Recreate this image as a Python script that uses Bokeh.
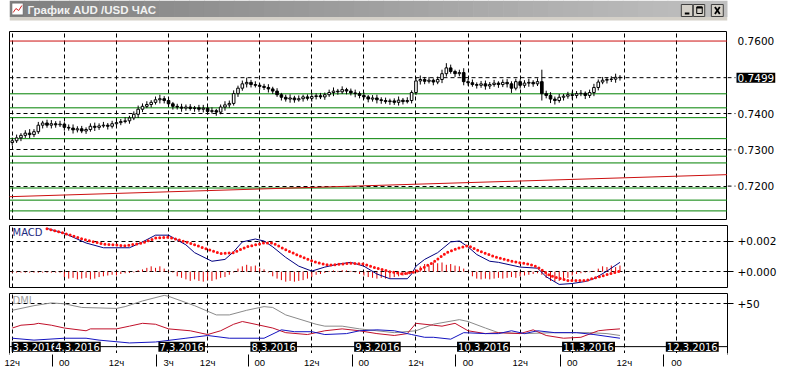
from bokeh.plotting import figure
from bokeh.models import (Range1d, FixedTicker, PrintfTickFormatter, Span, Slope,
                          Label, ColumnDataSource)
from bokeh.layouts import column, row
from bokeh.embed import file_html
from bokeh.resources import INLINE
from bokeh.core.properties import value

# ---------------------------------------------------------------- data
title_text = "График AUD /USD ЧАС"

# hourly candles, in pips (value / 10000 = price), bar 0 = 3.3 12ч
open_pips = [
    7320, 7325, 7333, 7340, 7346, 7342, 7350, 7368, 7374, 7368,
    7372, 7369, 7371, 7362, 7360, 7355, 7358, 7352, 7356, 7365,
    7362, 7366, 7368, 7365, 7372, 7375, 7378, 7380, 7388, 7398,
    7412, 7420, 7425, 7431, 7438, 7441, 7436, 7427, 7420, 7418,
    7415, 7418, 7414, 7416, 7412, 7415, 7406, 7408, 7404, 7418,
    7424, 7428, 7455, 7470, 7482, 7486, 7480, 7478, 7475, 7472,
    7468, 7462, 7452, 7445, 7440, 7443, 7438, 7441, 7446, 7442,
    7447, 7449, 7446, 7452, 7458, 7462, 7460, 7466, 7462, 7457,
    7455, 7450, 7446, 7440, 7443, 7438, 7436, 7433, 7435, 7431,
    7437, 7433, 7436, 7458, 7490, 7494, 7489, 7492, 7487, 7494,
    7510, 7526, 7516, 7510, 7513, 7488, 7485, 7480, 7478, 7482,
    7476, 7480, 7484, 7480, 7486, 7482, 7470, 7488, 7478, 7484,
    7486, 7482, 7488, 7455, 7450, 7440, 7436, 7445, 7448, 7452,
    7450, 7455, 7456, 7450, 7458, 7472, 7487, 7492, 7494, 7495, 7500]
high_pips = [
    7334, 7342, 7346, 7354, 7357, 7357, 7377, 7380, 7383, 7382,
    7379, 7380, 7376, 7370, 7370, 7365, 7366, 7362, 7373, 7375,
    7373, 7377, 7374, 7380, 7385, 7385, 7390, 7394, 7406, 7422,
    7428, 7434, 7437, 7447, 7452, 7448, 7444, 7432, 7427, 7427,
    7425, 7426, 7421, 7424, 7424, 7420, 7417, 7413, 7425, 7434,
    7436, 7464, 7477, 7491, 7499, 7493, 7489, 7483, 7482, 7481,
    7474, 7470, 7457, 7452, 7453, 7449, 7450, 7452, 7453, 7457,
    7456, 7457, 7458, 7466, 7472, 7468, 7475, 7471, 7469, 7466,
    7461, 7458, 7451, 7451, 7452, 7445, 7444, 7441, 7442, 7447,
    7443, 7445, 7464, 7499, 7505, 7501, 7501, 7497, 7502, 7521,
    7539, 7535, 7521, 7521, 7525, 7495, 7494, 7486, 7490, 7491,
    7487, 7493, 7489, 7494, 7495, 7489, 7496, 7494, 7492, 7496,
    7492, 7497, 7521, 7463, 7459, 7447, 7454, 7454, 7460, 7461,
    7462, 7465, 7461, 7466, 7482, 7494, 7501, 7500, 7503, 7510, 7506]
low_pips = [
    7312, 7319, 7324, 7333, 7332, 7335, 7344, 7359, 7361, 7359,
    7361, 7363, 7353, 7353, 7345, 7348, 7346, 7344, 7350, 7352,
    7355, 7361, 7356, 7359, 7363, 7368, 7373, 7372, 7382, 7388,
    7404, 7415, 7417, 7425, 7428, 7428, 7421, 7411, 7411, 7405,
    7408, 7408, 7405, 7405, 7403, 7397, 7400, 7394, 7398, 7408,
    7416, 7422, 7446, 7463, 7472, 7472, 7472, 7466, 7465, 7458,
    7454, 7446, 7436, 7433, 7430, 7430, 7433, 7433, 7436, 7433,
    7439, 7440, 7438, 7446, 7448, 7452, 7454, 7453, 7450, 7445,
    7442, 7440, 7431, 7433, 7428, 7427, 7427, 7424, 7424, 7422,
    7425, 7428, 7428, 7451, 7480, 7481, 7483, 7478, 7481, 7484,
    7502, 7510, 7501, 7503, 7478, 7477, 7474, 7469, 7471, 7466,
    7468, 7474, 7471, 7473, 7472, 7457, 7464, 7469, 7471, 7474,
    7474, 7476, 7436, 7442, 7429, 7425, 7430, 7436, 7441, 7439,
    7442, 7448, 7440, 7443, 7448, 7464, 7481, 7483, 7487, 7485, 7491]
close_pips = [
    7325, 7333, 7340, 7346, 7342, 7350, 7368, 7374, 7368, 7372,
    7369, 7371, 7362, 7360, 7355, 7358, 7352, 7356, 7365, 7362,
    7366, 7368, 7365, 7372, 7375, 7378, 7380, 7388, 7398, 7412,
    7420, 7425, 7431, 7438, 7441, 7436, 7427, 7420, 7418, 7415,
    7418, 7414, 7416, 7412, 7415, 7406, 7408, 7404, 7418, 7424,
    7428, 7455, 7470, 7482, 7486, 7480, 7478, 7475, 7472, 7468,
    7462, 7452, 7445, 7440, 7443, 7438, 7441, 7446, 7442, 7447,
    7449, 7446, 7452, 7458, 7462, 7460, 7466, 7462, 7457, 7455,
    7450, 7446, 7440, 7443, 7438, 7436, 7433, 7435, 7431, 7437,
    7433, 7436, 7458, 7490, 7494, 7489, 7492, 7487, 7494, 7510,
    7526, 7516, 7510, 7513, 7488, 7485, 7480, 7478, 7482, 7476,
    7480, 7484, 7480, 7486, 7482, 7470, 7488, 7478, 7484, 7486,
    7482, 7488, 7455, 7450, 7440, 7436, 7445, 7448, 7452, 7450,
    7455, 7456, 7450, 7458, 7472, 7487, 7492, 7494, 7495, 7500, 7499]

green_levels = [0.74545, 0.74158, 0.73887, 0.73308, 0.72824, 0.72639,
                0.71947, 0.71613, 0.71316]
red_levels = [0.7600]
trend_bars = [0, 140]
trend_prices = [0.71710, 0.72225]
last_price = 0.7499
price_ticks = [0.7200, 0.7300, 0.7400, 0.7600]
price_grid = [0.7200, 0.7300, 0.7400]

# MACD (units of 0.0001)
macd_bars = [8, 12, 17, 21, 27, 30, 33, 36, 40, 42,
             46, 49, 51, 53, 56, 58, 60, 63, 66, 69,
             72, 75, 78, 81, 84, 87, 91, 92, 93, 95,
             98, 101, 103, 105, 107, 110, 112, 117, 121, 123,
             126, 129, 132, 134, 137, 140]
macd_vals = [28.2, 25.0, 18.7, 15.6, 15.6, 19.4, 23.8, 23.8, 17.5, 12.4,
             6.8, 8.0, 13.0, 19.4, 21.3, 20.0, 16.2, 9.3, 3.6, 0.4,
             3.0, 4.9, 6.1, 3.6, -1.5, -4.6, -4.6, -1.5, 3.6, 8.0,
             12.4, 19.4, 20.0, 16.2, 11.2, 6.8, 6.1, 3.0, 2.3, -3.3,
             -8.3, -7.7, -6.4, -4.6, 0.4, 6.1]
signal_bars = [8, 12, 17, 21, 26, 30, 33, 36, 40, 44,
               48, 51, 54, 58, 60, 63, 67, 70, 73, 78,
               81, 84, 87, 90, 93, 97, 100, 103, 105, 108,
               111, 115, 119, 121, 124, 128, 132, 136, 140]
signal_vals = [28.0, 25.0, 20.6, 18.0, 16.9, 18.7, 21.9, 22.5, 19.4, 15.6,
               11.8, 12.4, 16.2, 18.7, 18.7, 14.3, 9.3, 6.1, 4.2, 5.5,
               4.9, 2.3, 0.0, -1.5, 0.0, 6.1, 12.4, 15.6, 16.9, 13.0,
               9.9, 6.8, 4.9, 3.0, -2.7, -5.8, -5.8, -2.7, 0.4]
hist_vals = [
    -0.6, -0.6, -0.6, -0.6, -0.6, -0.6, -0.6, -0.6, -0.6, -0.6,
    -0.6, -0.6, -3.5, -4.5, -4.0, -5.0, -4.5, -4.0, -5.0, -4.5,
    -3.5, -3.0, -2.5, -2.0, -2.5, -1.5, -1.0, -0.8, -0.5, 1.0,
    1.5, 2.5, 3.5, 2.5, 3.5, 2.0, 0.5, -0.5, -3.0, -4.0,
    -5.0, -6.0, -5.0, -6.0, -6.5, -5.5, -6.0, -5.0, -4.0, -3.5,
    -2.0, -0.5, 2.0, 3.5, 4.5, 3.5, 4.0, 2.5, 1.5, -0.5,
    -3.0, -4.5, -5.5, -6.5, -6.0, -6.5, -6.0, -5.5, -4.5, -3.5,
    -2.0, -1.5, -0.8, 0.5, 0.8, 0.5, 1.0, 0.8, 0.5, -0.5,
    -1.5, -2.5, -3.5, -4.0, -4.5, -4.0, -4.5, -4.0, -3.5, -3.0,
    -2.5, -2.0, -1.0, 1.5, 3.5, 5.0, 4.0, 6.0, 5.5, 6.0,
    4.5, 5.0, 4.0, 3.5, 2.0, 0.3, -3.0, -4.5, -5.0, -4.5,
    -5.0, -4.5, -4.0, -4.5, -4.0, -3.5, -4.0, -3.0, -2.5, -2.0,
    -1.5, -1.0, -2.0, -4.0, -6.0, -6.5, -6.0, -5.5, -4.0, -2.5,
    -1.5, -1.0, -0.5, -0.3, 0.5, 2.0, 3.5, 3.0, 4.0, 3.0, 4.0]
macd_ticks = [0.0, 0.002]

# DMI
adx_bars = [0, 5, 9, 12, 16, 24, 26, 30, 35, 36,
            42, 47, 50, 54, 58, 60, 63, 70, 72, 76,
            80, 88, 93, 97, 103, 105, 109, 112, 118, 125,
            133, 137, 140]
adx_vals = [42.4, 47.8, 51.0, 50.0, 45.7, 44.6, 46.7, 53.3, 59.8, 58.7,
            47.8, 37.0, 37.0, 42.4, 46.7, 45.7, 37.0, 26.1, 23.9, 23.9,
            20.7, 16.3, 18.5, 26.1, 31.5, 29.3, 21.7, 16.3, 15.2, 16.3,
            16.3, 15.2, 13.0]
pdi_bars = [0, 2, 5, 6, 9, 12, 17, 18, 24, 27,
            30, 33, 36, 41, 45, 48, 51, 53, 55, 60,
            63, 68, 72, 76, 80, 84, 88, 91, 93, 97,
            99, 102, 105, 109, 112, 117, 120, 123, 127, 131,
            135, 137, 140]
pdi_vals = [21.7, 25.0, 26.1, 27.2, 25.0, 21.7, 18.5, 20.7, 20.7, 23.9,
            27.2, 26.1, 20.7, 18.5, 14.1, 18.5, 26.1, 29.3, 27.2, 21.7,
            16.3, 14.1, 18.5, 20.7, 18.5, 15.2, 13.0, 15.2, 27.2, 25.0,
            23.9, 27.2, 18.5, 15.2, 16.3, 15.2, 19.6, 13.0, 9.8, 10.9,
            18.5, 19.6, 20.7]
mdi_bars = [0, 5, 12, 17, 20, 27, 33, 40, 45, 50,
            58, 62, 65, 69, 72, 77, 80, 84, 88, 92,
            95, 97, 101, 104, 109, 112, 115, 118, 121, 125,
            130, 134, 140]
mdi_vals = [9.8, 7.6, 9.8, 9.8, 7.6, 4.3, 5.4, 9.8, 13.0, 9.8,
            9.8, 19.6, 17.4, 17.4, 14.1, 15.2, 18.5, 19.6, 18.5, 14.1,
            10.9, 10.9, 8.7, 16.3, 15.2, 15.2, 18.5, 15.2, 18.5, 16.3,
            16.3, 14.1, 9.8]
dmi_ticks = [50]

# time scale
grid_bars = [0, 12, 24, 36, 45, 57, 69, 81, 93, 105, 117, 129, 141, 153]
hour_labels = ["12ч", "00", "12ч", "3ч", "12ч", "00", "12ч", "00", "12ч", "00",
               "12ч", "00", "12ч", "00"]
day_bars = [9.2, 33.2, 54.4, 78.3, 102.0, 126.2, 150.1]
date_bars = [-0.6, 9.2, 33.2, 54.4, 78.3, 102.0, 126.2, 150.1]
date_labels = ["3.3.2016", "4.3.2016", "7.3.2016", "8.3.2016", "9.3.2016",
               "10.3.2016", "11.3.2016", "12.3.2016"]

# ---------------------------------------------------------------- style / layout
W = 782
FONT = "DejaVu Sans"
GREEN = "#008000"
RED = "#cc1010"
X_LO, X_HI = -0.64, 164.77
P_LO, P_HI = 0.710789, 0.762632
M_LO, M_HI = -0.00103, 0.00301
D_LO, D_HI = -9.19, 62.0
xr = Range1d(X_LO, X_HI)


def style_grid(p):
    p.xgrid.ticker = FixedTicker(ticks=grid_bars)
    p.grid.grid_line_color = "black"
    p.grid.grid_line_dash = "4 3"
    p.grid.grid_line_width = 1
    p.grid.grid_line_alpha = 1.0


def style_yaxis(p):
    ax = p.yaxis[0]
    ax.axis_line_color = None
    ax.major_tick_in = 0
    ax.major_tick_out = 6
    ax.major_tick_line_color = "black"
    ax.minor_tick_line_color = None
    ax.major_label_text_font = FONT
    ax.major_label_text_font_size = "10.5px"
    ax.major_label_text_color = "black"
    ax.major_label_standoff = 4


def make_panel(height, yr, b_top, b_bottom, with_xaxis=False):
    p = figure(width=W, height=height, x_range=xr, y_range=yr,
               toolbar_location=None, output_backend="svg",
               x_axis_location="below" if with_xaxis else None,
               y_axis_location="right",
               min_border_left=9, min_border_right=55,
               min_border_top=b_top, min_border_bottom=b_bottom,
               background_fill_color="white", border_fill_color="white",
               outline_line_color="black", outline_line_width=1)
    style_grid(p)
    style_yaxis(p)
    return p


# ---------------- title bar
tf = figure(width=W, height=21, x_range=Range1d(0, W), y_range=Range1d(21, 0),
            toolbar_location=None, output_backend="svg",
            x_axis_location=None, y_axis_location=None, min_border=0,
            outline_line_color=None, background_fill_color="white",
            border_fill_color="white")
tf.grid.visible = False
n = 48
gx = [W * k / n for k in range(n + 1)]
gcol = []
for k in range(n):
    v = int(128 + 64 * k / (n - 1))
    gcol.append("#%02x%02x%02x" % (v, v, v))
tf.quad(left=gx[:-1], right=[g + 0.7 for g in gx[1:]], top=0, bottom=16.5,
        fill_color=gcol, line_color=None)
tf.quad(left=[0], right=[W], top=[16.5], bottom=[20], fill_color="#d4d0c8", line_color=None)
tf.quad(left=[2.5], right=[15], top=[2.5], bottom=[14.5], fill_color="white", line_color="#707070")
tf.line([4, 7, 10, 13.5], [12, 8, 10, 5], line_color="#d02020", line_width=1)
tf.quad(left=[731.7, 744.8, 764.4], right=[744.1, 757.2, 777.4], top=[4, 4, 4],
        bottom=[16, 16, 16], fill_color="#d4d0c8", line_color="#404040")
tf.segment(x0=[735.5], y0=[13], x1=[740.5], y1=[13], line_color="black", line_width=2)
tf.quad(left=[748.5], right=[754.5], top=[6.5], bottom=[13], fill_color=None,
        line_color="black", line_width=1)
tf.segment(x0=[748.5], y0=[7], x1=[754.5], y1=[7], line_color="black", line_width=2)
tf.segment(x0=[768.3, 773.6], y0=[6.5, 6.5], x1=[773.6, 768.3], y1=[13.5, 13.5],
           line_color="black", line_width=1.8)
tf.add_layout(Label(x=19.5, y=9, text=title_text, text_font="Liberation Sans",
                    text_font_style="bold", text_font_size="11.5px",
                    text_color="#f2f2f2", text_baseline="middle"))

# ---------------- price panel (chart + separate price scale on the right)
p_yr = Range1d(P_LO, P_HI)
pp = figure(width=727, height=203, x_range=xr, y_range=p_yr,
            toolbar_location=None, output_backend="svg",
            x_axis_location=None, y_axis_location=None,
            min_border_left=9, min_border_right=0, min_border_top=10, min_border_bottom=5,
            background_fill_color="white", border_fill_color="white",
            outline_line_color="black", outline_line_width=1)
style_grid(pp)
pp.ygrid.ticker = FixedTicker(ticks=price_grid)

for lv in green_levels:
    pp.add_layout(Span(location=lv, dimension="width", line_color=GREEN,
                       line_width=1, level="underlay"))
grad = (trend_prices[1] - trend_prices[0]) / (trend_bars[1] - trend_bars[0])
icpt = trend_prices[0] - grad * trend_bars[0]
pp.add_layout(Slope(gradient=grad, y_intercept=icpt, line_color=RED, line_width=1,
                    level="underlay"))
pp.add_layout(Span(location=last_price, dimension="width", line_color="black",
                   line_width=1, line_dash="4 3", level="underlay"))
for lv in red_levels:
    pp.add_layout(Span(location=lv, dimension="width", line_color=RED,
                       line_width=1))

nb = min(len(open_pips), len(high_pips), len(low_pips), len(close_pips))
o = [v / 10000 for v in open_pips[:nb]]
h = [v / 10000 for v in high_pips[:nb]]
l = [v / 10000 for v in low_pips[:nb]]
c = [v / 10000 for v in close_pips[:nb]]
csrc = ColumnDataSource(dict(
    x=list(range(nb)), o=o, h=h, l=l, c=c,
    top=[max(a, b) for a, b in zip(o, c)],
    bot=[min(a, b) for a, b in zip(o, c)],
    fill=["white" if b >= a else "black" for a, b in zip(o, c)]))
pp.segment(x0="x", y0="l", x1="x", y1="h", source=csrc, line_color="black", line_width=1)
pp.vbar(x="x", width=0.6, top="top", bottom="bot", source=csrc,
        fill_color="fill", line_color="black", line_width=1)

pl = figure(width=55, height=203, x_range=Range1d(0, 55), y_range=p_yr,
            toolbar_location=None, output_backend="svg",
            x_axis_location=None, y_axis_location=None,
            min_border_left=0, min_border_right=0, min_border_top=10, min_border_bottom=5,
            background_fill_color="white", border_fill_color="white",
            outline_line_color=None)
pl.grid.visible = False
tick_ys = price_grid + [last_price]
pl.segment(x0=[0] * len(tick_ys), y0=tick_ys, x1=[8] * len(tick_ys), y1=tick_ys,
           line_color="black", line_width=1, line_dash="4 3")
pl.text(x=[10] * len(price_ticks), y=price_ticks,
        text=["%.4f" % v for v in price_ticks], text_font=value(FONT),
        text_font_size="10.5px", text_color="black", text_baseline="middle",
        text_align="left")
pl.text(x=[9], y=[last_price], text=["%.4f" % last_price], text_font=value(FONT),
        text_font_size="10.5px", text_color="white", text_baseline="middle",
        text_align="left", background_fill_color="black", padding=1)

# ---------------- MACD panel
mp = make_panel(68, Range1d(M_LO, M_HI), 1, 5)
mp.yaxis.ticker = FixedTicker(ticks=macd_ticks)
mp.yaxis.formatter = PrintfTickFormatter(format="%+.3f")
hx = list(range(len(hist_vals)))
mp.segment(x0=hx, y0=[0.0] * len(hx), x1=hx, y1=[v / 10000 for v in hist_vals],
           line_color="#e00000", line_width=1)
mp.line(macd_bars, [v / 10000 for v in macd_vals], line_color="#000080", line_width=1)
mp.line(signal_bars, [v / 10000 for v in signal_vals], line_color="#ff1010",
        line_width=3, line_dash="0 4", line_cap="round")
mp.add_layout(Label(x=X_LO, y=M_HI, x_offset=3, y_offset=-1, text="MACD",
                    text_align="left", text_baseline="top", text_color="#1c2a80",
                    text_font=FONT, text_font_size="10px"))

# ---------------- DMI panel + time scale
dp = make_panel(78, Range1d(D_LO, D_HI), 1, 15, with_xaxis=True)
dp.yaxis.ticker = FixedTicker(ticks=dmi_ticks)
dp.yaxis.formatter = PrintfTickFormatter(format="%+d")
xa = dp.xaxis[0]
xa.ticker = FixedTicker(ticks=grid_bars, minor_ticks=day_bars)
xa.axis_line_color = "white"
xa.axis_line_width = 3
xa.major_tick_line_color = None
xa.major_tick_in = 0
xa.major_tick_out = 0
xa.minor_tick_line_color = "black"
xa.minor_tick_in = 0
xa.minor_tick_out = 12
xa.major_label_overrides = {b: t for b, t in zip(grid_bars, hour_labels)}
xa.major_label_text_font = "Liberation Sans"
xa.major_label_text_font_size = "9.5px"
xa.major_label_text_color = "black"
xa.major_label_standoff = -10

dp.add_layout(Span(location=0, dimension="width", line_color="black", line_width=1))
dp.line(adx_bars, adx_vals, line_color="#8a8a8a", line_width=1)
dp.line(pdi_bars, pdi_vals, line_color="#c0102a", line_width=1)
dp.line(mdi_bars, mdi_vals, line_color="#1414c0", line_width=1)
dp.add_layout(Label(x=X_LO, y=D_HI, x_offset=3, y_offset=-1, text="DMI",
                    text_align="left", text_baseline="top", text_color="#a0a0a0",
                    text_font=FONT, text_font_size="10px"))
for b, t in zip(date_bars, date_labels):
    dp.add_layout(Label(x=b, y=0, x_offset=2, text=t, text_align="left",
                        text_baseline="middle", text_color="white",
                        background_fill_color="black", padding=1,
                        text_font=FONT, text_font_size="10px"))

# ---------------- bottom window edge
bf = figure(width=W, height=6, x_range=Range1d(0, W), y_range=Range1d(0, 6),
            toolbar_location=None, output_backend="svg",
            x_axis_location=None, y_axis_location=None, min_border=0,
            outline_line_color=None, background_fill_color="#dcdcdc",
            border_fill_color="#dcdcdc")
bf.grid.visible = False
bf.quad(left=[0], right=[W], bottom=[5], top=[6], fill_color="#c8c8c8", line_color=None)

layout = column(tf, row(pp, pl, spacing=0), mp, dp, bf, spacing=0)
open("out.html", "w").write(file_html(layout, INLINE))
